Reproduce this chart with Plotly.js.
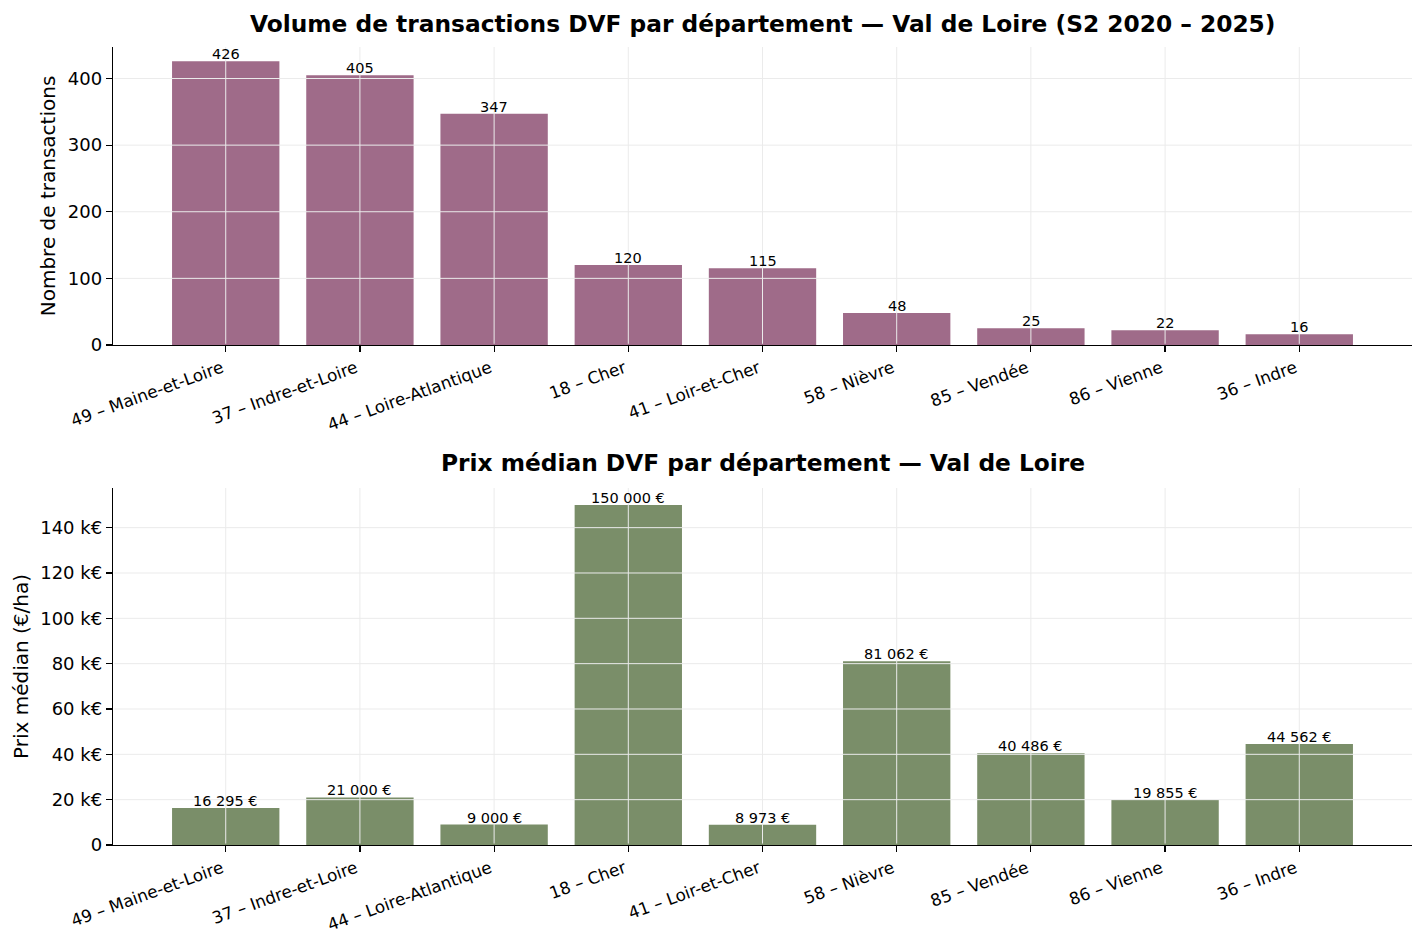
<!DOCTYPE html>
<html>
<head>
<meta charset="utf-8">
<script src="https://cdn.plot.ly/plotly-3.0.1.min.js"></script>
<style>
  html, body { margin: 0; padding: 0; background: #ffffff; }
  #chart { width: 1424px; height: 944px; }
</style>
</head>
<body>
<div id="chart"></div>
<script>
// Départements du Val de Loire, triés par volume de transactions
const departements = [
  "49 – Maine-et-Loire",
  "37 – Indre-et-Loire",
  "44 – Loire-Atlantique",
  "18 – Cher",
  "41 – Loir-et-Cher",
  "58 – Nièvre",
  "85 – Vendée",
  "86 – Vienne",
  "36 – Indre"
];
const transactions = [426, 405, 347, 120, 115, 48, 25, 22, 16];
const prixMedian = [16295, 21000, 9000, 150000, 8973, 81062, 40486, 19855, 44562];

const volumeTicks = [0, 100, 200, 300, 400];
const prixTicks = [0, 20000, 40000, 60000, 80000, 100000, 120000, 140000];
const prixTickText = prixTicks.map(v => v === 0 ? "0" : (v / 1000) + " k€");

const couleurVolume = "#9f6b89";
const couleurPrix = "#7a8e69";
const couleurGrille = "#ebebeb";
const FONT = "DejaVu Sans, sans-serif";

function fmtEuro(v) {
  return String(Math.round(v)).replace(/\B(?=(\d{3})+(?!\d))/g, " ") + " €";
}

const idx = departements.map((_, i) => i);

const traces = [
  {
    type: "bar",
    x: idx,
    y: transactions,
    width: 0.8,
    marker: { color: couleurVolume, line: { width: 0 } },
    xaxis: "x",
    yaxis: "y",
    hoverinfo: "skip"
  },
  {
    type: "bar",
    x: idx,
    y: prixMedian,
    width: 0.8,
    marker: { color: couleurPrix, line: { width: 0 } },
    xaxis: "x2",
    yaxis: "y2",
    hoverinfo: "skip"
  }
];

// Étiquettes de valeur au-dessus des barres
const annotations = [];
transactions.forEach((v, i) => {
  annotations.push({
    xref: "x", yref: "y", x: i, y: v,
    text: String(v), showarrow: false,
    yanchor: "bottom", xanchor: "center",
    borderpad: 0, yshift: -2,
    font: { family: FONT, size: 14.5, color: "#000" }
  });
});
prixMedian.forEach((v, i) => {
  annotations.push({
    xref: "x2", yref: "y2", x: i, y: v,
    text: fmtEuro(v), showarrow: false,
    yanchor: "bottom", xanchor: "center",
    borderpad: 0, yshift: -2,
    font: { family: FONT, size: 14.5, color: "#000" }
  });
});

const topDomain = [0.6266, 1];
const botDomain = [0, 0.4474];

annotations.push({
  xref: "paper", yref: "paper", x: 0.5, y: topDomain[1],
  yanchor: "middle", xanchor: "center", yshift: 24,
  text: "<b>Volume de transactions DVF par département — Val de Loire (S2 2020 – 2025)</b>",
  showarrow: false, font: { family: FONT, size: 23.3, color: "#000" }
});
annotations.push({
  xref: "paper", yref: "paper", x: 0.5, y: botDomain[1],
  yanchor: "middle", xanchor: "center", yshift: 25,
  text: "<b>Prix médian DVF par département — Val de Loire</b>",
  showarrow: false, font: { family: FONT, size: 23.3, color: "#000" }
});

// Grille dessinée par-dessus les barres
const shapes = [];
function grille(xa, ya, yTicks) {
  idx.forEach(i => shapes.push({
    type: "line", layer: "above",
    xref: xa, x0: i, x1: i,
    yref: ya + " domain", y0: 0.004, y1: 1,
    line: { color: couleurGrille, width: 1 }
  }));
  yTicks.filter(t => t > 0).forEach(t => shapes.push({
    type: "line", layer: "above",
    xref: xa + " domain", x0: 0.001, x1: 1,
    yref: ya, y0: t, y1: t,
    line: { color: couleurGrille, width: 1 }
  }));
}
grille("x", "y", volumeTicks);
grille("x2", "y2", prixTicks);

const xCommon = {
  tickmode: "array",
  tickvals: idx,
  ticktext: departements,
  tickangle: -20,
  ticklabelshift: -4,
  range: [-0.84, 8.84],
  showline: true, linecolor: "#000", linewidth: 1.2,
  ticks: "outside", ticklen: 6, tickcolor: "#000", tickwidth: 1.2,
  showgrid: false,
  zeroline: false,
  layer: "above traces",
  automargin: false,
  tickfont: { family: FONT, size: 16.8, color: "#000" }
};
const yCommon = {
  showline: true, linecolor: "#000", linewidth: 1.2,
  ticks: "outside", ticklen: 6, tickcolor: "#000", tickwidth: 1.2,
  showgrid: false,
  zeroline: false,
  layer: "above traces",
  automargin: false,
  tickfont: { family: FONT, size: 18, color: "#000" }
};

const layout = {
  width: 1424,
  height: 944,
  paper_bgcolor: "#ffffff",
  plot_bgcolor: "#ffffff",
  font: { family: FONT, color: "#000" },
  showlegend: false,
  margin: { l: 113, r: 12, t: 47, b: 99, pad: 0 },
  xaxis: Object.assign({}, xCommon, { domain: [0, 1], anchor: "y" }),
  yaxis: Object.assign({}, yCommon, {
    domain: topDomain, anchor: "x",
    range: [0, 447.3], tickmode: "array", tickvals: volumeTicks,
    title: { text: "Nombre de transactions", font: { family: FONT, size: 20, color: "#000" }, standoff: 6 }
  }),
  xaxis2: Object.assign({}, xCommon, { domain: [0, 1], anchor: "y2" }),
  yaxis2: Object.assign({}, yCommon, {
    domain: botDomain, anchor: "x2",
    range: [0, 157500], tickmode: "array", tickvals: prixTicks, ticktext: prixTickText,
    title: { text: "Prix médian (€/ha)", font: { family: FONT, size: 20, color: "#000" }, standoff: 6 }
  }),
  annotations: annotations,
  shapes: shapes,
  bargap: 0.2
};

Plotly.newPlot("chart", traces, layout, { displayModeBar: false, staticPlot: true });
</script>
</body>
</html>
